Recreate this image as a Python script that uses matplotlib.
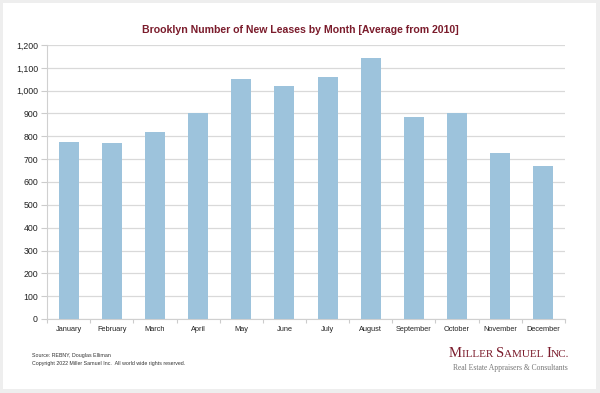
import matplotlib
matplotlib.use("Agg")
import matplotlib.pyplot as plt
from matplotlib.patches import Rectangle

months = ["January", "February", "March", "April", "May", "June", "July",
          "August", "September", "October", "November", "December"]
leases = [776, 772, 819, 902, 1050, 1020, 1061, 1143, 886, 901, 726, 671]
yticks = list(range(0, 1201, 100))

plt.rcParams['font.family'] = ['Liberation Sans', 'DejaVu Sans']

W, H = 600, 393
fig = plt.figure(figsize=(W / 100, H / 100), dpi=100)
fig.patch.set_facecolor('#eeeeee')
fig.patches.append(Rectangle((3 / W, (H - 389) / H), 593 / W, 386 / H,
                             transform=fig.transFigure, facecolor='white',
                             edgecolor='none', zorder=-10))

ax = fig.add_axes([47 / W, (H - 319) / H, 518 / W, 274 / H])
ax.set_facecolor('none')
x = list(range(len(months)))
ax.bar(x, leases, width=0.46, color='#9dc3dc', zorder=3)
ax.set_xlim(-0.5, len(months) - 0.5)
ax.set_ylim(0, 1200)
ax.set_yticks(yticks)
ax.set_yticklabels([f"{v:,}" for v in yticks], fontsize=6.3, color='#222222')
ax.set_xticks(x)
ax.set_xticklabels(months, fontsize=5.3, color='#222222')
ax.tick_params(axis='x', length=0, pad=5)
ax.tick_params(axis='y', length=4, color='#cccccc', pad=2.5, width=0.8)
ax.set_xticks([i + 0.5 for i in range(-1, len(months))], minor=True)
ax.tick_params(axis='x', which='minor', length=3, color='#cccccc', width=0.8)
ax.grid(axis='y', color='#d9d9d9', linewidth=0.9, zorder=1)
for s in ['top', 'right']:
    ax.spines[s].set_visible(False)
ax.spines['left'].set_color('#d0d0d0')
ax.spines['bottom'].set_color('#d0d0d0')
ax.spines['left'].set_linewidth(0.8)
ax.spines['bottom'].set_linewidth(0.8)

fig.text(300 / W, 1 - 30 / H, "Brooklyn Number of New Leases by Month [Average from 2010]",
         ha='center', va='center', fontsize=7.6, fontweight='bold', color='#7b1c2c')

fig.text(32 / W, 1 - 355 / H, "Source: REBNY, Douglas Elliman",
         ha='left', va='center', fontsize=3.8, color='#333333')
fig.text(32 / W, 1 - 363 / H, "Copyright 2022 Miller Samuel Inc.  All world wide rights reserved.",
         ha='left', va='center', fontsize=3.8, color='#333333')

# small-caps logo
fig.canvas.draw()
renderer = fig.canvas.get_renderer()
parts = [("M", 10.5), ("ILLER ", 8.0), ("S", 10.5), ("AMUEL ", 8.0), ("I", 10.5), ("NC.", 8.0)]
xpos = 449
for txt, fs in parts:
    t = fig.text(xpos / W, 1 - 357 / H, txt, ha='left', va='baseline', fontsize=fs,
                 family='Liberation Serif', color='#7b1c2c')
    bb = t.get_window_extent(renderer=renderer)
    xpos += bb.width
fig.text(453 / W, 1 - 370 / H, "Real Estate Appraisers & Consultants",
         ha='left', va='baseline', fontsize=5.5, family='Liberation Serif', color='#777777')

fig.savefig("out.png", dpi=100, facecolor=fig.get_facecolor())
